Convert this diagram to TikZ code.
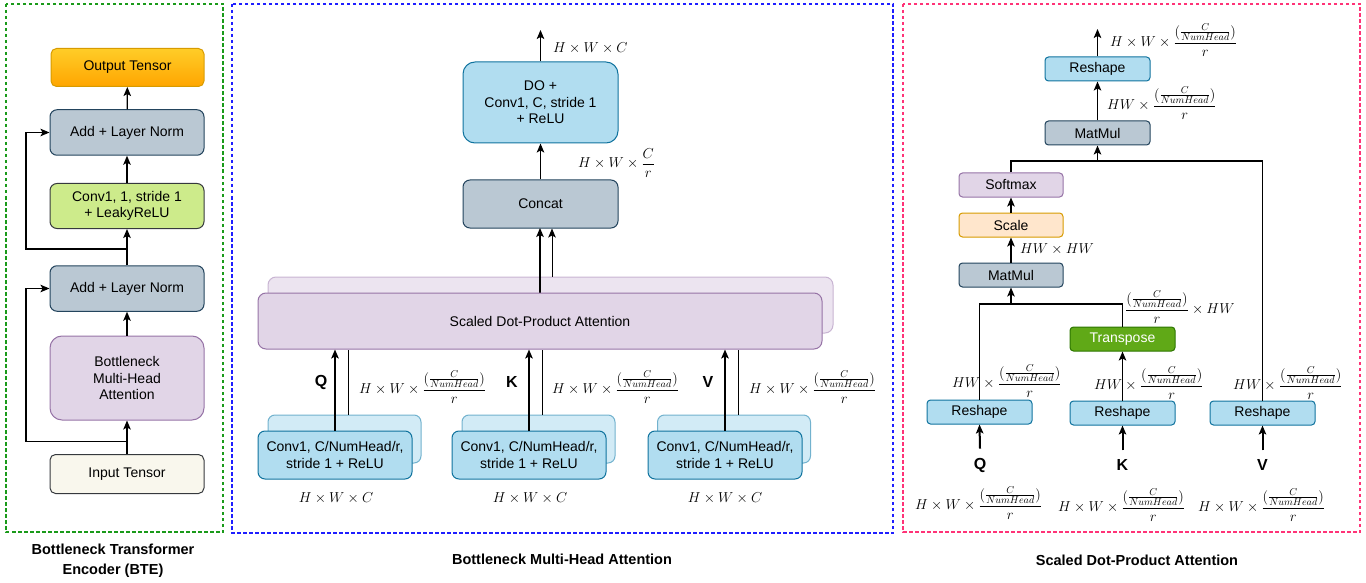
\documentclass[tikz,border=0pt]{standalone}
\usepackage{amsmath}
\usepackage{fontspec}
\setmainfont{Liberation Sans}
\usetikzlibrary{arrows.meta,calc}
\definecolor{bluef}{HTML}{B1DDF0}\definecolor{blued}{HTML}{10739E}
\definecolor{grayf}{HTML}{BAC8D3}\definecolor{grayd}{HTML}{23445D}
\definecolor{purf}{HTML}{E1D5E7}\definecolor{purd}{HTML}{9673A6}
\definecolor{limef}{HTML}{CDEB8B}\definecolor{darkd}{HTML}{36393D}
\definecolor{inpf}{HTML}{F9F7ED}
\definecolor{oyel}{HTML}{FFCD28}\definecolor{oora}{HTML}{FFA500}\definecolor{oord}{HTML}{D79B00}
\definecolor{scalef}{HTML}{FFE6CC}
\definecolor{trf}{HTML}{60A917}\definecolor{trd}{HTML}{2D7600}
\definecolor{purbf}{HTML}{ECE4F0}\definecolor{purbd}{HTML}{C8B4D2}
\definecolor{bluebf}{HTML}{D2EBF6}\definecolor{bluebd}{HTML}{72B2CE}
\definecolor{dgreen}{HTML}{1A9A1A}\definecolor{dblue}{HTML}{1F1FFF}\definecolor{dpink}{HTML}{FF3377}
\newcommand{\chfrac}{\dfrac{(\frac{C}{NumHead})}{r}}
\tikzset{
  box/.style={draw, line width=1pt, align=center, font=\fontsize{14}{16.5}\selectfont, inner sep=2pt},
  arr/.style={-{Stealth[length=9pt,width=7.5pt,inset=2pt]}, line width=1.2pt},
  tarr/.style={-{Stealth[length=9pt,width=7.5pt,inset=2pt]}, line width=2pt},
  ln/.style={line width=1.2pt},
  lbl/.style={font=\fontsize{14}{17}\selectfont, inner sep=0pt},
  qkv/.style={font=\fontsize{16}{19}\selectfont\bfseries, inner sep=0pt},
  ttl/.style={font=\fontsize{14.5}{20}\selectfont\bfseries, align=center, inner sep=0pt},
  frame/.style={dash pattern=on 3.5pt off 2.5pt, line width=1.3pt},
}
\begin{document}
\begin{tikzpicture}[x=1pt,y=-1pt]
\useasboundingbox (0,0) rectangle (1366,583);
% frames
\draw[frame, draw=dgreen] (6,4) rectangle (223,532);
\draw[frame, draw=dblue] (232,4) rectangle (893,533);
\draw[frame, draw=dpink] (903,4) rectangle (1360,532);
\node[ttl] (t1) at (113,560.5) {Bottleneck Transformer\\Encoder (BTE)};
\node[ttl] (t2) at (562,559) {Bottleneck Multi-Head Attention};
\node[ttl] (t3) at (1137,560) {Scaled Dot-Product Attention};

% ---------------- BTE ----------------
\node[box, top color=oyel, bottom color=oora, draw=oord, rounded corners=5.5pt, minimum width=153, minimum height=38] (out) at (127.5,67.5) {Output Tensor};
\node[box, fill=grayf, draw=grayd, rounded corners=7pt, minimum width=154, minimum height=45.5] (add2) at (127,132.5) {Add + Layer Norm};
\node[box, fill=limef, draw=darkd, rounded corners=7pt, minimum width=154, minimum height=45] (conv) at (127,206) {Conv1, 1, stride 1\\+ LeakyReLU};
\node[box, fill=grayf, draw=grayd, rounded corners=7pt, minimum width=154, minimum height=45.5] (add1) at (127,288.5) {Add + Layer Norm};
\node[box, fill=purf, draw=purd, rounded corners=12pt, minimum width=154, minimum height=84] (mha) at (127,378) {Bottleneck\\Multi-Head\\ Attention};
\node[box, fill=inpf, draw=darkd, rounded corners=5.5pt, minimum width=154, minimum height=39] (inp) at (127,474) {Input Tensor};
\coordinate (s1) at (127,441.5);
\coordinate (s2) at (127,249);
\draw[arr] (inp) -- (mha);
\draw[arr] (mha) -- (add1);
\draw[arr] (add1) -- (conv);
\draw[arr] (conv) -- (add2);
\draw[arr] (add2) -- (out);
\draw[arr] (s1) -- (26,441.5) |- (add1.west);
\draw[arr] (s2) -- (26,249) |- (add2.west);

% ---------------- MHA ----------------
\node[box, fill=bluef, draw=blued, rounded corners=12pt, minimum width=155, minimum height=81] (do) at (540.5,102.5) {DO +\\Conv1, C, stride 1\\+ ReLU};
\node[box, fill=grayf, draw=grayd, rounded corners=7pt, minimum width=155, minimum height=48] (cat) at (540.5,204) {Concat};
\coordinate (mtop) at (540.5,30);
\draw[arr] (do.north) -- (mtop);
\draw[arr] (cat) -- (do);
\node[lbl, anchor=west] (l1) at (553,48) {$H\times W\times C$};
\node[lbl, anchor=west] (l2) at (578,163) {$H\times W\times \dfrac{C}{r}$};

% back boxes
\node[box, fill=purbf, draw=purbd, rounded corners=8pt, minimum width=565, minimum height=56] (sdpab) at (550.5,305) {};
\node[box, fill=bluebf, draw=bluebd, rounded corners=7pt, minimum width=153, minimum height=48] (qb) at (344.5,439) {};
\node[box, fill=bluebf, draw=bluebd, rounded corners=7pt, minimum width=153, minimum height=48] (kb) at (538.5,439) {};
\node[box, fill=bluebf, draw=bluebd, rounded corners=7pt, minimum width=153, minimum height=48] (vb) at (734,439) {};
% lines to concat
\draw[arr] (540,293) -- (540,228);
\draw[arr, line width=1pt] ([xshift=1.5pt]sdpab.north) -- ([xshift=1.5pt]sdpab.north |- cat.south);
% front boxes
\node[box, fill=purf, draw=purd, rounded corners=8pt, minimum width=564, minimum height=56] (sdpa) at (540,321) {Scaled Dot-Product Attention};
\draw[ln, line width=1pt] ([xshift=3.5pt]qb.north) -- ([xshift=3.5pt]qb.north |- sdpa.south);
\draw[ln, line width=1pt] ([xshift=3.5pt]kb.north) -- ([xshift=3.5pt]kb.north |- sdpa.south);
\draw[ln, line width=1pt] ([xshift=4pt]vb.north) -- ([xshift=4pt]vb.north |- sdpa.south);
\node[box, fill=bluef, draw=blued, rounded corners=7pt, minimum width=154, minimum height=48] (qf) at (335,455) {Conv1, C/NumHead/r,\\stride 1 + ReLU};
\node[box, fill=bluef, draw=blued, rounded corners=7pt, minimum width=154, minimum height=48] (kf) at (529,455) {Conv1, C/NumHead/r,\\stride 1 + ReLU};
\node[box, fill=bluef, draw=blued, rounded corners=7pt, minimum width=154, minimum height=48] (vf) at (725,455) {Conv1, C/NumHead/r,\\stride 1 + ReLU};
\draw[tarr] (qf.north) -- (qf.north |- sdpa.south);
\draw[tarr] (kf.north) -- (kf.north |- sdpa.south);
\draw[tarr] (vf.north) -- (vf.north |- sdpa.south);
\node[qkv] (mq) at (321,382) {Q};
\node[qkv] (mk) at (512,382) {K};
\node[qkv] (mv) at (708,382) {V};
\node[lbl, anchor=west] (mlq) at (359,387) {$H\times W\times \chfrac$};
\node[lbl, anchor=west] (mlk) at (552,387) {$H\times W\times \chfrac$};
\node[lbl, anchor=west] (mlv) at (749,387) {$H\times W\times \chfrac$};
\node[lbl] (bq) at (336,498) {$H\times W\times C$};
\node[lbl] (bk) at (530,498) {$H\times W\times C$};
\node[lbl] (bv) at (725,498) {$H\times W\times C$};

% ---------------- SDPA ----------------
\node[box, fill=bluef, draw=blued, rounded corners=3.5pt, minimum width=105, minimum height=24] (rt) at (1097.5,69) {Reshape};
\node[box, fill=grayf, draw=grayd, rounded corners=3.5pt, minimum width=105, minimum height=24] (mm2) at (1097.5,133) {MatMul};
\node[box, fill=purf, draw=purd, rounded corners=3.5pt, minimum width=104, minimum height=24] (soft) at (1011,185) {Softmax};
\node[box, fill=scalef, draw=oord, rounded corners=3.5pt, minimum width=104, minimum height=24] (scl) at (1011,225) {Scale};
\node[box, fill=grayf, draw=grayd, rounded corners=3.5pt, minimum width=104, minimum height=24] (mm1) at (1011,275) {MatMul};
\node[box, fill=trf, draw=trd, rounded corners=3.5pt, minimum width=105, minimum height=24, text=white] (tr) at (1122.5,339) {Transpose};
\node[box, fill=bluef, draw=blued, rounded corners=3.5pt, minimum width=105, minimum height=24] (rq) at (979.5,412) {Reshape};
\node[box, fill=bluef, draw=blued, rounded corners=3.5pt, minimum width=105, minimum height=24] (rk) at (1122.5,413) {Reshape};
\node[box, fill=bluef, draw=blued, rounded corners=3.5pt, minimum width=105, minimum height=24] (rv) at (1262.5,413) {Reshape};
\node[qkv] (sq) at (980,465) {Q};
\node[qkv] (sk) at (1122.5,465) {K};
\node[qkv] (sv) at (1262.5,465) {V};
\coordinate (stop) at (1097.5,29);
\coordinate (j1) at (1097.5,161);
\coordinate (j2) at (1011,304);
\draw[arr] (rt.north) -- (stop);
\draw[arr] (mm2) -- (rt);
\draw[ln] (soft.north) |- (j1) -| (rv.north);
\draw[arr] (j1) -- (mm2.south);
\draw[arr] (scl) -- (soft);
\draw[arr] (mm1) -- (scl);
\draw[ln] (rq.north) |- (j2) -| (tr.north);
\draw[arr] (j2) -- (mm1.south);
\draw[arr] (rk) -- (tr);
\draw[tarr] ([yshift=9pt]sq.north) -- (rq.south);
\draw[tarr] ([yshift=9pt]sk.north) -- (rk.south);
\draw[tarr] ([yshift=9pt]sv.north) -- (rv.south);
\node[lbl, anchor=west] (sl1) at (1110,40) {$H\times W\times \chfrac$};
\node[lbl, anchor=west] (sl2) at (1107,103) {$HW\times \chfrac$};
\node[lbl, anchor=west] (sl3) at (1020,249) {$HW\times HW$};
\node[lbl, anchor=west] (sl4) at (1125,307) {$\chfrac\times HW$};
\node[lbl, anchor=west] (sl5) at (952,381) {$HW\times \chfrac$};
\node[lbl, anchor=west] (sl6) at (1094,383) {$HW\times \chfrac$};
\node[lbl, anchor=west] (sl7) at (1233,383) {$HW\times \chfrac$};
\node[lbl, anchor=west] (sl8) at (915,503) {$H\times W\times \chfrac$};
\node[lbl, anchor=west] (sl9) at (1058,505) {$H\times W\times \chfrac$};
\node[lbl, anchor=west] (sl10) at (1198,505) {$H\times W\times \chfrac$};
\end{tikzpicture}
\end{document}
